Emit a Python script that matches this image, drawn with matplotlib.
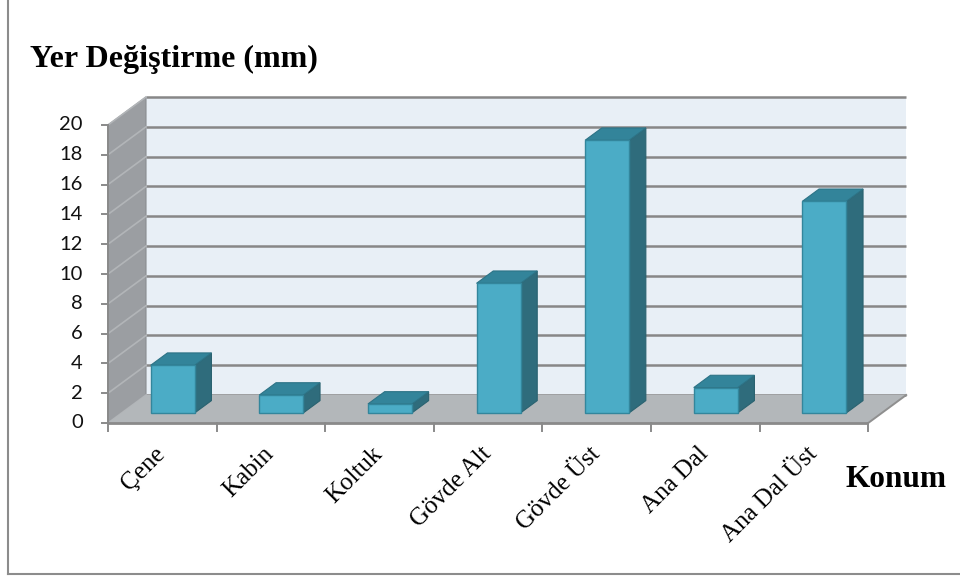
import matplotlib
matplotlib.use("Agg")
import matplotlib.pyplot as plt
from matplotlib.patches import Polygon
from matplotlib.lines import Line2D

categories = ["Çene", "Kabin", "Koltuk", "Gövde Alt", "Gövde Üst", "Ana Dal", "Ana Dal Üst"]
values = [3.2, 1.2, 0.6, 8.7, 18.3, 1.7, 14.2]
yticks = [0, 2, 4, 6, 8, 10, 12, 14, 16, 18, 20]
y_title = "Yer Değiştirme (mm)"
x_title = "Konum"

W, H, DPI = 960, 579, 100
fig = plt.figure(figsize=(W / DPI, H / DPI), dpi=DPI)
ax = fig.add_axes([0, 0, 1, 1])
ax.set_axis_off()

# pixel scale of the data space
px_cat = 108.6      # pixels per category
px_val = 14.9       # pixels per value unit
x0_px, y0_px = 108, H - 423
ax.set_xlim(-x0_px / px_cat, (W - x0_px) / px_cat)
ax.set_ylim(-y0_px / px_val, (H - y0_px) / px_val)

n = len(categories)
vmax = yticks[-1]
DX = 38 / px_cat     # depth offset in category units
DY = 28 / px_val     # depth offset in value units

grid_c = "#878787"
back_c = "#e8eff6"
side_c = "#9b9ea2"
floor_c = "#b3b7ba"

# back wall
ax.add_patch(Polygon([(DX, DY), (n + DX, DY), (n + DX, vmax + DY), (DX, vmax + DY)],
                     closed=True, fc=back_c, ec="none", zorder=1))
for v in yticks:
    ax.plot([DX, n + DX], [v + DY, v + DY], color=grid_c, lw=1.8, zorder=2,
            solid_capstyle="butt")
# side wall
ax.add_patch(Polygon([(0, 0), (0, vmax), (DX, vmax + DY), (DX, DY)],
                     closed=True, fc=side_c, ec="#8a8d91", lw=0.8, zorder=3))
for v in yticks:
    ax.plot([0, DX], [v, v + DY], color="#b2b5b8", lw=1.2, zorder=4)
# floor
ax.add_patch(Polygon([(0, 0), (n, 0), (n + DX, DY), (DX, DY)],
                     closed=True, fc=floor_c, ec="none", zorder=5))
ax.plot([n, n + DX], [0, DY], color="#8f8f8f", lw=1.4, zorder=6)
ax.plot([0, n], [0, 0], color="#8a8a8a", lw=2.0, zorder=6, solid_capstyle="butt")
ax.plot([0, 0], [0, vmax], color="#8a8a8a", lw=1.4, zorder=6)

# bars
d0, d1 = 0.36, 0.80
bw = 0.405
front_c, top_c, right_c = "#4bacc6", "#33849a", "#2f6c7c"
for i, v in enumerate(values):
    cx = i + 0.5 + d0 * DX - 0.03
    xl, xr = cx - bw / 2, cx + bw / 2
    yb = d0 * DY
    bdx, bdy = (d1 - d0) * DX, (d1 - d0) * DY
    ax.add_patch(Polygon([(xr, yb), (xr, yb + v), (xr + bdx, yb + v + bdy), (xr + bdx, yb + bdy)],
                         closed=True, fc=right_c, ec="#2a6270", lw=0.8, zorder=10))
    ax.add_patch(Polygon([(xl, yb + v), (xr, yb + v), (xr + bdx, yb + v + bdy), (xl + bdx, yb + v + bdy)],
                         closed=True, fc=top_c, ec="#2d7386", lw=0.8, zorder=10))
    ax.add_patch(Polygon([(xl, yb), (xr, yb), (xr, yb + v), (xl, yb + v)],
                         closed=True, fc=front_c, ec="#33869c", lw=1.0, zorder=11))

# y ticks and labels
for v in yticks:
    ax.plot([-6 / px_cat, 0], [v, v], color="#8a8a8a", lw=1.4, zorder=6)
    ax.text(-25 / px_cat, v, str(v), ha="right", va="center", fontsize=14.5,
            family="Lato", color="#111111")

# x ticks and labels
for k in range(n + 1):
    ax.plot([k, k], [0, -8 / px_val], color="#8a8a8a", lw=1.4, zorder=6)
for i, c in enumerate(categories):
    ax.text(i + 0.5 + 4 / px_cat, -32 / px_val, c, rotation=45, rotation_mode="anchor",
            ha="right", va="baseline", fontsize=18, family="Liberation Serif",
            color="#000000")

fig.text(30 / W, 1 - 67 / H, y_title, ha="left", va="baseline", fontsize=23,
         family="Liberation Serif", fontweight="bold")
fig.text(845 / W, 1 - 487 / H, x_title, ha="left", va="baseline", fontsize=22.5,
         family="Liberation Serif", fontweight="bold")

# outer frame (left and bottom edges visible)
fig.add_artist(Line2D([7.5 / W, 7.5 / W], [1 - 574 / H, 1], color="#8c8c8c", lw=1.5))
fig.add_artist(Line2D([7.5 / W, 1], [1 - 574 / H, 1 - 574 / H], color="#8c8c8c", lw=1.5))

fig.savefig("out.png", dpi=DPI)
